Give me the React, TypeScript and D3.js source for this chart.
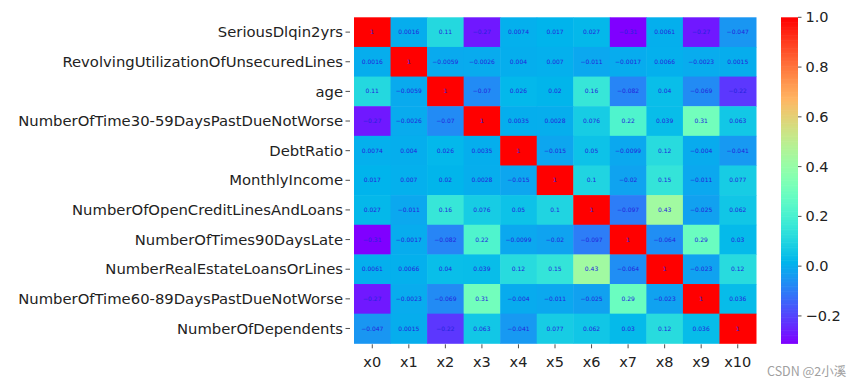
import { scaleBand, scaleLinear } from 'd3'

// correlation matrix rows / cols
const rowLabels = [
  'SeriousDlqin2yrs',
  'RevolvingUtilizationOfUnsecuredLines',
  'age',
  'NumberOfTime30-59DaysPastDueNotWorse',
  'DebtRatio',
  'MonthlyIncome',
  'NumberOfOpenCreditLinesAndLoans',
  'NumberOfTimes90DaysLate',
  'NumberRealEstateLoansOrLines',
  'NumberOfTime60-89DaysPastDueNotWorse',
  'NumberOfDependents',
]
const colLabels = ['x0', 'x1', 'x2', 'x3', 'x4', 'x5', 'x6', 'x7', 'x8', 'x9', 'x10']

const row0 = [1, 0.0016, 0.11, -0.27, 0.0074, 0.017, 0.027, -0.31, 0.0061, -0.27, -0.047]
const row1 = [0.0016, 1, -0.0059, -0.0026, 0.004, 0.007, -0.011, -0.0017, 0.0066, -0.0023, 0.0015]
const row2 = [0.11, -0.0059, 1, -0.07, 0.026, 0.02, 0.16, -0.082, 0.04, -0.069, -0.22]
const row3 = [-0.27, -0.0026, -0.07, 1, 0.0035, 0.0028, 0.076, 0.22, 0.039, 0.31, 0.063]
const row4 = [0.0074, 0.004, 0.026, 0.0035, 1, -0.015, 0.05, -0.0099, 0.12, -0.004, -0.041]
const row5 = [0.017, 0.007, 0.02, 0.0028, -0.015, 1, 0.1, -0.02, 0.15, -0.011, 0.077]
const row6 = [0.027, -0.011, 0.16, 0.076, 0.05, 0.1, 1, -0.097, 0.43, -0.025, 0.062]
const row7 = [-0.31, -0.0017, -0.082, 0.22, -0.0099, -0.02, -0.097, 1, -0.064, 0.29, 0.03]
const row8 = [0.0061, 0.0066, 0.04, 0.039, 0.12, 0.15, 0.43, -0.064, 1, -0.023, 0.12]
const row9 = [-0.27, -0.0023, -0.069, 0.31, -0.004, -0.011, -0.025, 0.29, -0.023, 1, 0.036]
const row10 = [-0.047, 0.0015, -0.22, 0.063, -0.041, 0.077, 0.062, 0.03, 0.12, 0.036, 1]
const matrix = [row0, row1, row2, row3, row4, row5, row6, row7, row8, row9, row10]

const cbarTicks = [-0.2, 0, 0.2, 0.4, 0.6, 0.8, 1.0]

// matplotlib "rainbow" colormap
function rainbow(t: number) {
  const c = (v: number) => Math.round(Math.max(0, Math.min(1, v)) * 255)
  const r = Math.abs(2 * t - 0.5)
  const g = Math.sin(t * Math.PI)
  const b = Math.cos(t * Math.PI / 2)
  return `rgb(${c(r)},${c(g)},${c(b)})`
}

const fmt = (v: number) => {
  if (v === 1) return '1'
  const s = Number(v.toPrecision(2)).toString()
  return s.replace('-', '\u2212')
}

export default function App() {
  const grid = { x0: 354, x1: 756, y0: 17.3, y1: 343.3 }
  const cbar = { x0: 781, x1: 798 }
  const vmin = -0.31
  const vmax = 1
  const font = 'DejaVu Sans, sans-serif'

  const x = scaleBand<string>().domain(colLabels).range([grid.x0, grid.x1])
  const y = scaleBand<string>().domain(rowLabels).range([grid.y0, grid.y1])
  const norm = scaleLinear().domain([vmin, vmax]).range([0, 1]).clamp(true)
  const cy = scaleLinear().domain([vmin, vmax]).range([grid.y1, grid.y0])

  const steps = Array.from({ length: 200 }, (_, i) => vmin + (vmax - vmin) * i / 200)
  const stepH = (grid.y1 - grid.y0) / 200

  return (
    <svg width={864} height={388} style={{ position: 'absolute', left: 0, top: 0, background: '#fff' }}
      fontFamily={font}>
      {/* cells */}
      <g>
        {matrix.map((row, i) =>
          row.map((v, j) => (
            <rect key={`${i}-${j}`} x={x(colLabels[j])} y={y(rowLabels[i])}
              width={x.bandwidth() + 0.5} height={y.bandwidth() + 0.5}
              fill={rainbow(norm(v))} />
          )))}
      </g>
      {/* annotations */}
      <g fontSize={6} fill="#2424dc" textAnchor="middle">
        {matrix.map((row, i) =>
          row.map((v, j) => (
            <text key={`${i}-${j}`} x={(x(colLabels[j]) ?? 0) + x.bandwidth() / 2}
              y={(y(rowLabels[i]) ?? 0) + y.bandwidth() / 2} dy="0.35em">{fmt(v)}</text>
          )))}
      </g>
      {/* y axis */}
      <g fontSize={14.8} fill="#222" textAnchor="end">
        {rowLabels.map(l => {
          const yy = (y(l) ?? 0) + y.bandwidth() / 2
          return (
            <g key={l}>
              <line x1={grid.x0 - 8.5} x2={grid.x0 - 4} y1={yy} y2={yy} stroke="#222" strokeWidth={0.8} />
              <text x={grid.x0 - 11} y={yy} dy="0.35em">{l}</text>
            </g>
          )
        })}
      </g>
      {/* x axis */}
      <g fontSize={14.5} fill="#222" textAnchor="middle">
        {colLabels.map(l => {
          const xx = (x(l) ?? 0) + x.bandwidth() / 2
          return (
            <g key={l}>
              <line x1={xx} x2={xx} y1={grid.y1 + 1} y2={grid.y1 + 5} stroke="#222" strokeWidth={0.8} />
              <text x={xx} y={367}>{l}</text>
            </g>
          )
        })}
      </g>
      {/* colorbar */}
      <g>
        {steps.map((v, i) => (
          <rect key={i} x={cbar.x0} y={grid.y1 - (i + 1) * stepH} width={cbar.x1 - cbar.x0}
            height={stepH + 0.6} fill={rainbow(norm(v + (vmax - vmin) / 400))} />
        ))}
        <g fontSize={14.5} fill="#222">
          {cbarTicks.map(t => (
            <g key={t}>
              <line x1={cbar.x1} x2={cbar.x1 + 3.5} y1={cy(t)} y2={cy(t)} stroke="#222" strokeWidth={0.8} />
              <text x={cbar.x1 + 7.5} y={cy(t)} dy="0.35em">{t.toFixed(1).replace('-', '\u2212')}</text>
            </g>
          ))}
        </g>
      </g>
      <text x={767} y={376} fontSize={12.5} fill="#a0a0a0"
        fontFamily="'Noto Sans CJK SC', 'DejaVu Sans', sans-serif">CSDN @2小溪</text>
    </svg>
  )
}
